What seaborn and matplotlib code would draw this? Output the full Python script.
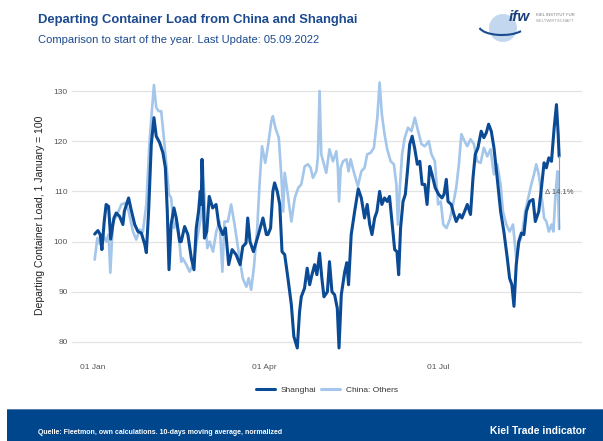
import numpy as np
import pandas as pd
import matplotlib
matplotlib.use('Agg')
import matplotlib.pyplot as plt
from matplotlib.patches import Rectangle, Circle, Arc
import seaborn as sns

# Days since 1 January 2022 and values (1 January = 100)
shanghai_days = [0.9, 2.6, 3.8, 4.7, 5.9, 6.9, 8.2, 9.3, 11.0, 12.2, 14.0, 15.7, 16.5, 18.7, 20.0,
                 21.9, 23.6, 25.4, 27.2, 28.0, 29.2, 30.6, 32.0, 33.2, 35.0, 36.7, 38.0, 39.0, 39.9,
                 41.0, 42.5, 43.7, 45.5, 46.3, 48.1, 49.8, 51.6, 53.0, 54.2, 55.4, 56.3, 56.8, 57.2,
                 58.5, 59.7, 61.0, 62.8, 64.6, 66.0, 68.1, 69.5, 71.2, 73.0, 75.1, 77.2, 78.6, 80.3,
                 81.2, 82.4, 84.2, 86.8, 89.2, 91.0, 91.8, 93.2, 94.4, 95.3, 96.7, 98.0, 99.2, 100.6,
                 102.3, 104.1, 105.4, 107.2, 108.4, 109.3, 111.0, 112.4, 113.7, 114.9, 116.3, 117.5,
                 118.9, 120.1, 121.2, 123.0, 124.1, 125.4, 126.8, 128.2, 129.1, 130.3, 132.1, 133.2,
                 134.1, 135.5, 137.3, 139.2, 140.8, 142.5, 143.9, 145.2, 146.4, 147.8, 149.0, 150.4,
                 151.6, 153.0, 154.4, 155.6, 156.9, 158.3, 159.5, 160.4, 161.4, 162.7, 163.9, 165.0,
                 166.2, 167.5, 168.9, 170.2, 171.5, 172.7, 174.1, 175.3, 176.7, 177.9, 179.6, 181.4,
                 183.1, 184.2, 185.4, 186.3, 188.0, 189.4, 190.6, 192.4, 193.6, 195.0, 196.4, 198.1,
                 199.4, 200.6, 202.0, 203.7, 205.1, 206.4, 207.6, 209.0, 210.4, 212.1, 213.9, 215.6,
                 217.4, 218.6, 219.8, 220.9, 222.1, 223.4, 224.8, 226.1, 227.4, 229.1, 230.9, 232.1,
                 233.9, 235.3, 236.7, 237.9, 239.2, 240.6, 242.0, 243.2, 244.1, 244.6]
shanghai_vals = [101.5, 102.2, 101.4, 98.4, 104.0, 107.4, 107.0, 100.5, 104.7, 105.7, 105.0, 103.4,
                 106.1, 108.7, 106.4, 103.4, 102.0, 101.7, 99.4, 97.8, 106.0, 119.4, 124.7, 121.0,
                 119.7, 117.7, 114.7, 106.0, 94.4, 103.4, 106.7, 104.7, 100.0, 100.0, 103.0, 101.4,
                 96.7, 94.4, 102.7, 106.0, 110.0, 107.4, 116.4, 100.7, 102.0, 109.0, 106.7, 107.4,
                 103.4, 101.4, 102.7, 95.4, 98.4, 97.4, 95.4, 99.0, 99.7, 104.7, 100.0, 98.0, 101.4,
                 104.7, 101.4, 101.4, 102.7, 110.0, 111.7, 110.0, 107.4, 98.0, 97.4, 92.7, 87.4, 81.1,
                 78.8, 86.0, 89.0, 90.7, 94.7, 91.4, 93.4, 95.4, 93.4, 97.7, 92.7, 89.0, 90.0, 96.0,
                 90.0, 89.4, 86.7, 78.8, 89.4, 94.0, 95.8, 91.4, 101.4, 106.0, 110.5, 108.7, 104.7,
                 107.4, 103.4, 101.4, 104.7, 106.0, 110.0, 107.4, 108.7, 108.0, 109.0, 104.0, 98.4,
                 98.0, 93.4, 102.7, 108.0, 109.4, 114.0, 119.4, 121.0, 118.4, 115.4, 116.0, 111.4,
                 111.4, 107.4, 115.0, 113.4, 110.7, 109.4, 108.7, 109.4, 112.4, 108.0, 107.4, 105.4,
                 104.0, 105.4, 104.7, 106.0, 107.4, 105.4, 112.7, 117.4, 118.7, 122.0, 120.7, 121.7,
                 123.4, 122.0, 118.7, 112.7, 106.0, 102.0, 96.7, 92.7, 91.4, 87.1, 95.4, 100.0, 101.7,
                 101.4, 106.0, 108.0, 108.4, 104.0, 106.0, 110.7, 115.7, 114.7, 116.7, 116.0, 122.7,
                 127.3, 121.4, 117.0]

others_days = [0.9, 2.3, 3.8, 5.2, 7.0, 8.2, 9.1, 10.5, 12.2, 14.9, 16.9, 17.8, 18.7, 21.0, 22.7,
               24.5, 26.2, 28.0, 29.7, 30.9, 32.0, 33.2, 34.5, 35.8, 37.2, 38.5, 39.9, 41.0, 42.5,
               44.0, 45.5, 46.3, 47.0, 49.0, 50.7, 52.5, 54.2, 56.5, 57.7, 59.0, 60.0, 61.2, 63.0,
               64.7, 66.4, 67.9, 69.0, 70.8, 72.5, 74.3, 76.4, 78.6, 80.5, 81.7, 83.0, 84.4, 86.2,
               87.4, 88.7, 90.4, 91.8, 93.6, 94.4, 95.7, 97.5, 98.9, 99.8, 100.6, 102.0, 104.1,
               105.9, 107.7, 109.3, 111.1, 112.8, 114.2, 115.4, 117.2, 118.0, 118.9, 119.8, 121.2,
               122.4, 124.1, 125.9, 127.7, 128.5, 129.1, 130.0, 131.2, 133.0, 134.1, 135.2, 137.0,
               139.0, 140.8, 142.5, 143.9, 145.7, 147.4, 149.2, 150.4, 151.6, 153.0, 154.4, 156.2,
               157.9, 159.2, 160.0, 161.0, 162.2, 163.6, 165.3, 167.1, 168.9, 170.6, 172.4, 174.1,
               176.2, 177.6, 179.4, 181.1, 182.5, 183.8, 185.5, 187.3, 189.0, 190.6, 192.0, 193.3,
               195.0, 196.4, 198.1, 199.9, 201.6, 203.4, 205.1, 206.9, 208.6, 210.4, 212.1, 213.9,
               215.1, 216.9, 218.6, 220.4, 222.1, 223.4, 225.1, 226.8, 228.2, 230.0, 231.4, 232.6,
               233.9, 235.3, 236.7, 237.9, 239.2, 240.6, 241.6, 242.7, 243.7, 244.6]
others_vals = [96.4, 100.7, 99.4, 101.4, 100.0, 101.4, 93.8, 104.0, 105.0, 107.4, 107.7, 107.0, 106.0,
               102.0, 100.4, 102.4, 102.0, 107.4, 120.0, 126.0, 131.2, 126.7, 126.0, 126.0, 120.7,
               115.4, 109.4, 108.7, 102.7, 104.0, 99.4, 96.0, 96.7, 95.4, 94.0, 95.4, 99.4, 104.7,
               115.0, 104.7, 98.7, 100.0, 98.0, 102.0, 104.0, 94.0, 104.0, 104.0, 107.4, 103.4, 98.0,
               92.7, 91.0, 92.7, 90.4, 94.7, 102.7, 111.4, 119.0, 115.7, 119.0, 124.0, 125.0, 122.7,
               120.7, 112.7, 106.0, 113.7, 110.0, 104.0, 108.7, 110.7, 111.4, 115.0, 115.4, 114.7,
               112.7, 114.0, 116.7, 130.0, 117.4, 115.4, 113.7, 118.4, 116.0, 118.0, 114.7, 108.0,
               114.7, 116.0, 116.4, 114.0, 116.4, 113.7, 111.0, 114.0, 114.7, 117.4, 117.7, 118.7,
               124.7, 131.7, 125.3, 121.4, 118.4, 116.0, 115.4, 111.4, 103.4, 110.7, 117.4, 120.7,
               122.7, 122.0, 124.7, 122.0, 119.4, 119.0, 120.0, 117.4, 116.0, 107.4, 108.0, 103.4,
               102.7, 104.5, 107.5, 110.7, 115.4, 121.4, 120.0, 119.0, 120.4, 119.4, 116.0, 115.7,
               118.7, 117.0, 118.4, 113.4, 115.4, 111.4, 106.0, 103.4, 102.0, 103.4, 96.7, 99.4,
               101.4, 106.0, 108.4, 111.4, 113.4, 115.4, 113.4, 109.4, 104.7, 104.0, 102.0, 103.4,
               102.0, 109.4, 114.0, 102.5]

series_names = ['Shanghai', 'China: Others']
series_colors = ['#0b4a94', '#a3c6ea']
tick_dates = ['2022-01-01', '2022-04-01', '2022-07-01']
tick_labels = ['01 Jan', '01 Apr', '01 Jul']
y_ticks = [80, 90, 100, 110, 120, 130]

start = pd.Timestamp('2022-01-01')
df = pd.concat([
    pd.DataFrame({'day': shanghai_days, 'value': shanghai_vals, 'series': series_names[0]}),
    pd.DataFrame({'day': others_days, 'value': others_vals, 'series': series_names[1]}),
])
df['date'] = start + pd.to_timedelta(df['day'], unit='D')

sns.set_style('white')
plt.rcParams['font.family'] = ['Liberation Sans', 'DejaVu Sans']

fig = plt.figure(figsize=(6.03, 4.41), dpi=100)
ax = fig.add_axes([72 / 603, 1 - 356 / 441, 510 / 603, 281 / 441])

sns.lineplot(data=df, x='date', y='value', hue='series', hue_order=series_names,
             palette=series_colors, estimator=None, sort=False, ax=ax, legend=False)
for line, lw in zip(ax.get_lines(), [2.2, 1.9]):
    line.set_linewidth(lw)
    line.set_solid_joinstyle('round')
# Shanghai on top
ax.get_lines()[0].set_zorder(4)
ax.get_lines()[1].set_zorder(3)

# change between the two series at the last point
last_s = shanghai_vals[-1]
last_o = others_vals[-1]
last_date = start + pd.Timedelta(days=shanghai_days[-1])
ax.plot([last_date, last_date], [last_s, last_o], color='#9a9a9a', lw=0.8, zorder=5)
ax.text(last_date, (last_s + last_o) / 2, '\u0394 %.1f%%' % ((last_s / last_o - 1) * 100),
        ha='center', va='center', fontsize=5.5, color='#555555', zorder=6)

ax.set_xlim(start - pd.Timedelta(days=11.0), start + pd.Timedelta(days=256.6))
ax.set_ylim(77.2, 133.2)
ax.set_yticks(y_ticks)
ax.set_xticks(pd.to_datetime(tick_dates))
ax.set_xticklabels(tick_labels)
ax.grid(axis='y', color='#e3e3e3', lw=0.9)
ax.grid(axis='x', visible=False)
for s in ax.spines.values():
    s.set_visible(False)
ax.tick_params(axis='y', length=0, labelsize=6, labelcolor='#555555', pad=3)
ax.tick_params(axis='x', length=2, width=0.5, color='#999999', labelsize=6,
               labelcolor='#555555', pad=4)
ax.set_xlabel('')
ax.set_ylabel('Departing Container Load, 1 January = 100', fontsize=7.5, color='#222222', labelpad=6)

# legend, centred on the panel
handles = [plt.Line2D([], [], color=c, lw=2.2) for c in series_colors]
fig.legend(handles, series_names, loc='center', bbox_to_anchor=(327 / 603, 1 - 390 / 441), ncol=2,
           frameon=False, fontsize=6, handlelength=2.3, columnspacing=0.6, handletextpad=0.7,
           labelcolor='#333333')

# header
fig.text(38 / 603, 1 - 20 / 441, 'Departing Container Load from China and Shanghai',
         fontsize=9.4, fontweight='bold', color='#1b4a8f', va='center', ha='left')
fig.text(38 / 603, 1 - 40 / 441, 'Comparison to start of the year. Last Update: 05.09.2022',
         fontsize=8.0, color='#1b4a8f', va='center', ha='left')

# logo (y axis runs downward here)
lax = fig.add_axes([478 / 603, 1 - 56 / 441, 125 / 603, 52 / 441])
lax.set_xlim(0, 125)
lax.set_ylim(52, 0)
lax.axis('off')
lax.add_patch(Circle((25, 24), 14, color='#c3d8ef', lw=0))
lax.add_patch(Arc((24, 22), 46, 18, theta1=15, theta2=175, color='#1b4a8f', lw=1.5))
lax.text(41, 13, 'ifw', fontsize=11, fontweight='bold', style='italic', color='#1b3f7a',
         va='center', ha='center')
lax.text(58, 11, 'KIEL INSTITUT FÜR', fontsize=3, color='#777777', va='center', ha='left')
lax.text(58, 17, 'WELTWIRTSCHAFT', fontsize=3, color='#999999', va='center', ha='left')

# footer band
fig.patches.append(Rectangle((7 / 603, 0), 596 / 603, 31 / 441, transform=fig.transFigure,
                             facecolor='#00468c', edgecolor='none', zorder=0))
fig.patches.append(Rectangle((7 / 603, 31 / 441), 596 / 603, 1.2 / 441, transform=fig.transFigure,
                             facecolor='#5a7fb0', edgecolor='none', zorder=0))
fig.text(38 / 603, 1 - 432 / 441, 'Quelle: Fleetmon, own calculations. 10-days moving average, normalized',
         fontsize=5.0, fontweight='bold', color='white', va='center', ha='left')
fig.text(586 / 603, 1 - 431 / 441, 'Kiel Trade indicator', fontsize=7.4, fontweight='bold',
         color='white', va='center', ha='right')

fig.savefig('out.png', dpi=100)
